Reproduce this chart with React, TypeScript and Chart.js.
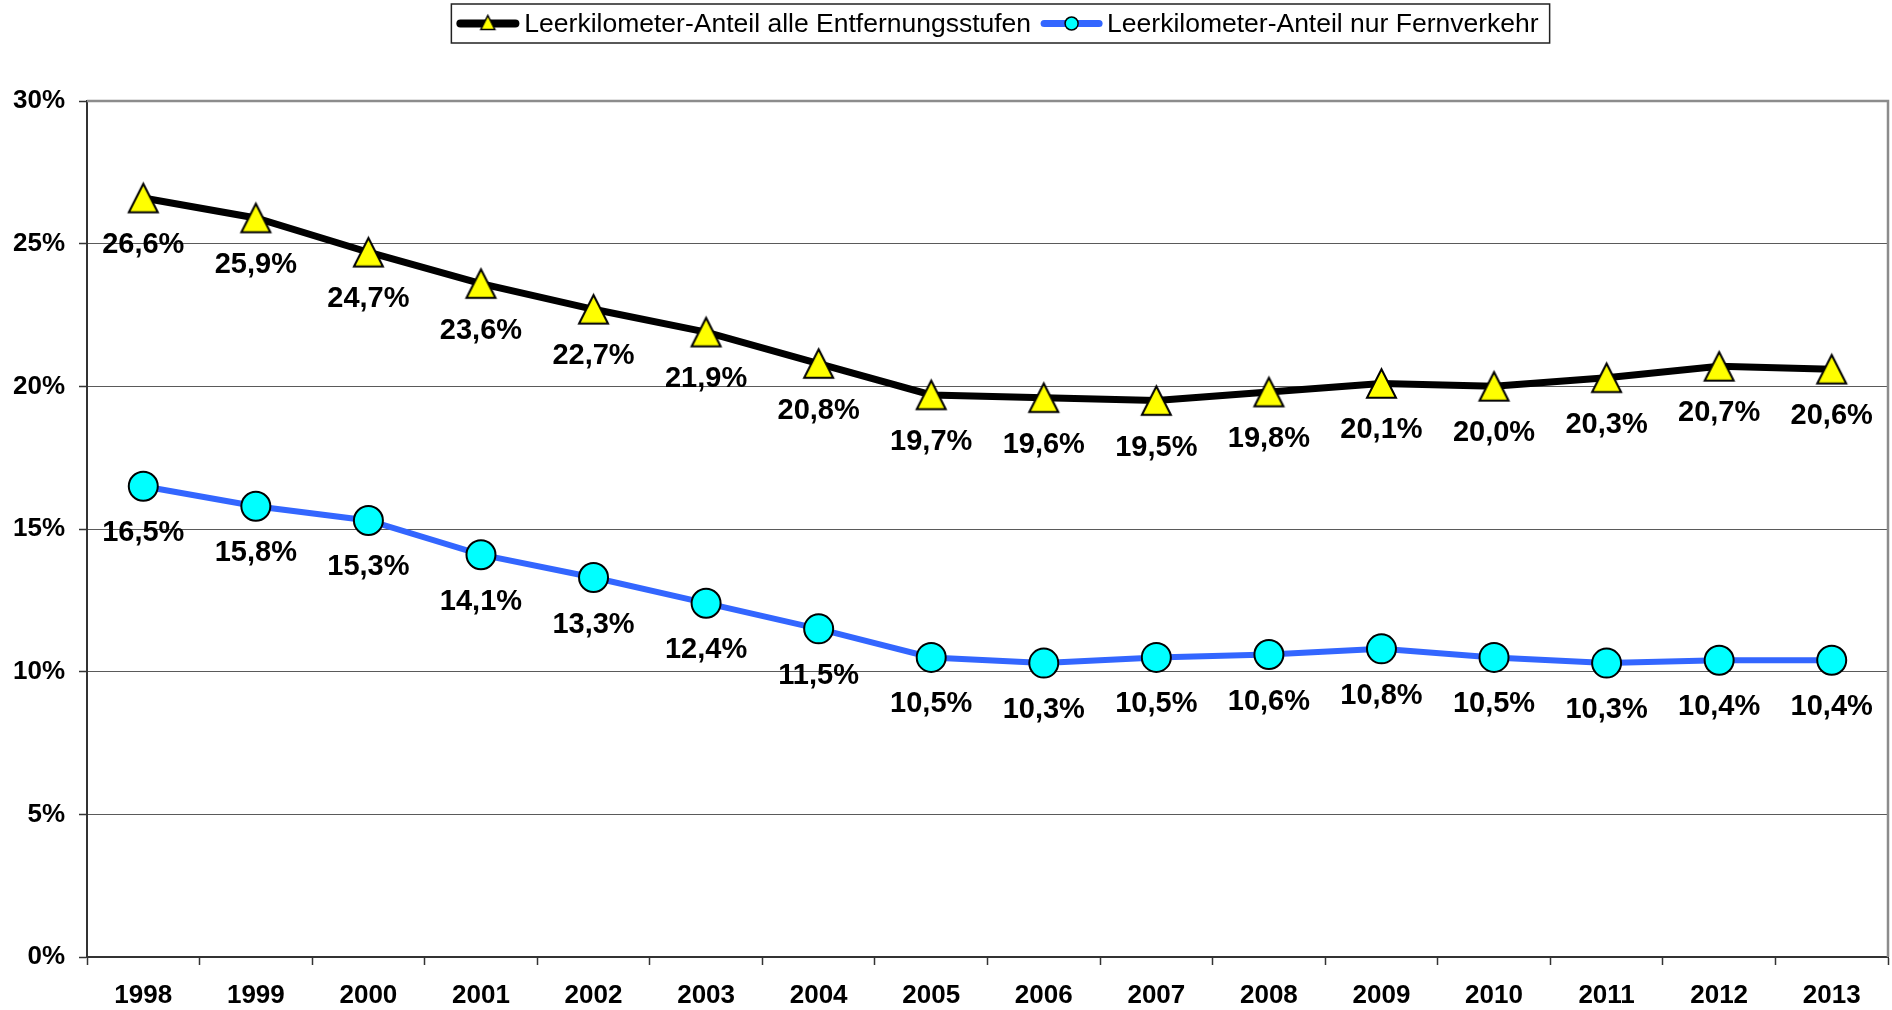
import React, { useEffect, useRef } from "react";
import { Chart, registerables } from "chart.js";

Chart.register(...registerables);

const years = ["1998", "1999", "2000", "2001", "2002", "2003", "2004", "2005", "2006", "2007", "2008", "2009", "2010", "2011", "2012", "2013"];
const allDistances = [26.6, 25.9, 24.7, 23.6, 22.7, 21.9, 20.8, 19.7, 19.6, 19.5, 19.8, 20.1, 20.0, 20.3, 20.7, 20.6];
const longDistance = [16.5, 15.8, 15.3, 14.1, 13.3, 12.4, 11.5, 10.5, 10.3, 10.5, 10.6, 10.8, 10.5, 10.3, 10.4, 10.4];
const seriesLabels = ["Leerkilometer-Anteil alle Entfernungsstufen", "Leerkilometer-Anteil nur Fernverkehr"];
const yMin = 0;
const yMax = 30;
const yStep = 5;

const FONT = '"Liberation Sans", Arial, Helvetica, sans-serif';
const BLACK_LINE = "#000000";
const BLUE_LINE = "#3366ff";
const YELLOW = "#ffff00";
const CYAN = "#00ffff";

function fmt(v: number): string {
  return v.toFixed(1).replace(".", ",") + "%";
}

function makeTriangle(w: number, h: number, lw: number): HTMLCanvasElement {
  const c = document.createElement("canvas");
  const pad = lw + 1;
  c.width = Math.ceil(w + pad * 2);
  c.height = Math.ceil(h + pad * 2);
  const ctx = c.getContext("2d")!;
  const cx = c.width / 2;
  const top = (c.height - h) / 2;
  ctx.beginPath();
  ctx.moveTo(cx, top);
  ctx.lineTo(cx + w / 2, top + h);
  ctx.lineTo(cx - w / 2, top + h);
  ctx.closePath();
  ctx.fillStyle = YELLOW;
  ctx.fill();
  ctx.lineJoin = "miter";
  ctx.lineWidth = lw;
  ctx.strokeStyle = "#000";
  ctx.stroke();
  return c;
}

const dataLabelPlugin = {
  id: "dataLabels",
  afterDatasetsDraw(chart: any) {
    const ctx = chart.ctx;
    ctx.save();
    ctx.font = `bold 29px ${FONT}`;
    ctx.fillStyle = "#000";
    ctx.textAlign = "center";
    ctx.textBaseline = "middle";
    chart.data.datasets.forEach((ds: any, i: number) => {
      const meta = chart.getDatasetMeta(i);
      meta.data.forEach((pt: any, j: number) => {
        ctx.fillText(fmt(ds.data[j]), pt.x, pt.y + 47);
      });
    });
    ctx.restore();
  },
};

const plotBorderPlugin = {
  id: "plotBorder",
  beforeDatasetsDraw(chart: any) {
    const { ctx, chartArea } = chart;
    ctx.save();
    ctx.strokeStyle = "#8c8c8c";
    ctx.lineWidth = 2.5;
    ctx.beginPath();
    ctx.moveTo(chartArea.left, chartArea.top);
    ctx.lineTo(chartArea.right, chartArea.top);
    ctx.lineTo(chartArea.right, chartArea.bottom);
    ctx.stroke();
    ctx.restore();
  },
};

const customLegendPlugin = {
  id: "customLegend",
  afterDraw(chart: any) {
    const { ctx, chartArea } = chart;
    ctx.save();
    ctx.font = `26.5px ${FONT}`;
    const t1 = ctx.measureText(seriesLabels[0]).width;
    const t2 = ctx.measureText(seriesLabels[1]).width;
    const padL = 5, marker = 63, gapT = 5, gapItem = 9, padR = 10;
    const total = padL + marker + gapT + t1 + gapItem + marker + gapT + t2 + padR;
    const left = (chartArea.left + chartArea.right) / 2 + 13 - total / 2;
    const top = 4, height = 39;
    const cy = top + height / 2;
    ctx.fillStyle = "#fff";
    ctx.fillRect(left, top, total, height);
    ctx.strokeStyle = "#222";
    ctx.lineWidth = 1.5;
    ctx.strokeRect(left, top, total, height);

    // item 1
    let x = left + padL;
    ctx.lineCap = "round";
    ctx.strokeStyle = BLACK_LINE;
    ctx.lineWidth = 8;
    ctx.beginPath();
    ctx.moveTo(x + 4, cy);
    ctx.lineTo(x + marker - 4, cy);
    ctx.stroke();
    const tri = makeTriangle(14, 14, 1.5);
    ctx.drawImage(tri, x + marker / 2 - tri.width / 2, cy - tri.height / 2 - 1);
    x += marker + gapT;
    ctx.fillStyle = "#000";
    ctx.textAlign = "left";
    ctx.textBaseline = "middle";
    ctx.fillText(seriesLabels[0], x, cy + 1);
    x += t1 + gapItem;

    // item 2
    ctx.strokeStyle = BLUE_LINE;
    ctx.lineWidth = 7;
    ctx.beginPath();
    ctx.moveTo(x + 4, cy);
    ctx.lineTo(x + marker - 4, cy);
    ctx.stroke();
    ctx.beginPath();
    ctx.arc(x + marker / 2, cy, 6.5, 0, Math.PI * 2);
    ctx.fillStyle = CYAN;
    ctx.fill();
    ctx.lineWidth = 1.5;
    ctx.strokeStyle = "#000";
    ctx.stroke();
    x += marker + gapT - 1;
    ctx.fillStyle = "#000";
    ctx.fillText(seriesLabels[1], x, cy + 1);
    ctx.restore();
  },
};

export default function App() {
  const ref = useRef<HTMLCanvasElement | null>(null);

  useEffect(() => {
    if (!ref.current) return;
    const triangle = makeTriangle(29, 28.5, 2);
    const chart = new Chart(ref.current, {
      type: "line",
      data: {
        labels: years,
        datasets: [
          {
            label: seriesLabels[0],
            data: allDistances,
            borderColor: BLACK_LINE,
            borderWidth: 7,
            tension: 0,
            pointStyle: triangle as any,
            pointRadius: 15,
            pointBackgroundColor: YELLOW,
            pointBorderColor: "#000",
            clip: false as any,
          },
          {
            label: seriesLabels[1],
            data: longDistance,
            borderColor: BLUE_LINE,
            borderWidth: 6,
            tension: 0,
            pointStyle: "circle",
            pointRadius: 14.5,
            pointBorderWidth: 2,
            pointBackgroundColor: CYAN,
            pointBorderColor: "#000",
            clip: false as any,
          },
        ],
      },
      options: {
        responsive: false,
        animation: false,
        layout: { autoPadding: false, padding: { top: 101, right: 4, left: 0, bottom: 0 } },
        plugins: {
          legend: { display: false },
          tooltip: { enabled: false },
        },
        scales: {
          x: {
            offset: true,
            grid: {
              offset: true,
              drawOnChartArea: false,
              drawTicks: true,
              tickLength: 8,
              tickColor: "#333",
              tickWidth: 1.5,
            },
            border: { display: true, color: "#333", width: 2 },
            ticks: {
              color: "#000",
              font: { family: FONT, size: 26, weight: "bold" },
              padding: 15,
              maxRotation: 0,
              autoSkip: false,
            },
            afterFit: (s: any) => {
              s.height = 53;
              s.paddingLeft = 0;
              s.paddingRight = 0;
            },
          },
          y: {
            min: yMin,
            max: yMax,
            ticks: {
              stepSize: yStep,
              color: "#000",
              font: { family: FONT, size: 26, weight: "bold" },
              padding: 14,
              callback: (v: any) => v + "%",
            },
            grid: {
              color: "#5a5a5a",
              lineWidth: 1,
              tickLength: 8,
              tickColor: "#333",
              tickWidth: 1.5,
            },
            border: { display: true, color: "#333", width: 2 },
            afterFit: (s: any) => {
              s.width = 87;
            },
          },
        },
      },
      plugins: [plotBorderPlugin, dataLabelPlugin, customLegendPlugin],
    });
    return () => chart.destroy();
  }, []);

  return (
    <div style={{ position: "absolute", left: 0, top: 0, width: 1892, height: 1010, background: "#fff" }}>
      <canvas ref={ref} width={1892} height={1010} style={{ display: "block" }} />
    </div>
  );
}
